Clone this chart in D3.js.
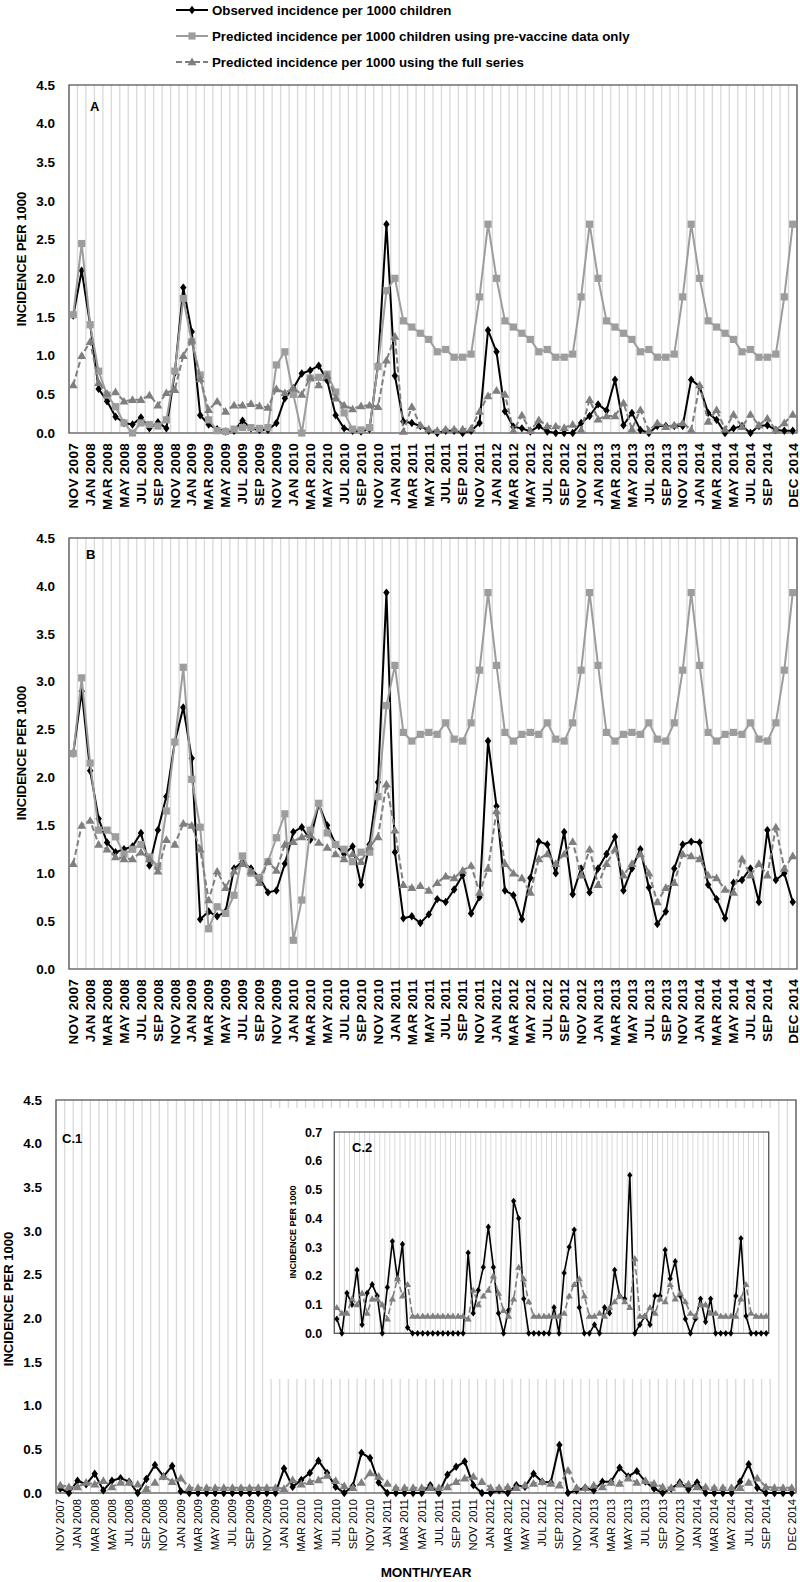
<!DOCTYPE html>
<html><head><meta charset="utf-8">
<script src="https://cdn.jsdelivr.net/npm/d3@7"></script>
<style>body{margin:0;background:#fff}svg{display:block}</style>
</head><body><svg id="c" width="800" height="1582"></svg>
<script>
const months = ["NOV 2007","DEC 2007",
"JAN 2008","FEB 2008","MAR 2008","APR 2008","MAY 2008","JUN 2008","JUL 2008","AUG 2008","SEP 2008","OCT 2008","NOV 2008","DEC 2008",
"JAN 2009","FEB 2009","MAR 2009","APR 2009","MAY 2009","JUN 2009","JUL 2009","AUG 2009","SEP 2009","OCT 2009","NOV 2009","DEC 2009",
"JAN 2010","FEB 2010","MAR 2010","APR 2010","MAY 2010","JUN 2010","JUL 2010","AUG 2010","SEP 2010","OCT 2010","NOV 2010","DEC 2010",
"JAN 2011","FEB 2011","MAR 2011","APR 2011","MAY 2011","JUN 2011","JUL 2011","AUG 2011","SEP 2011","OCT 2011","NOV 2011","DEC 2011",
"JAN 2012","FEB 2012","MAR 2012","APR 2012","MAY 2012","JUN 2012","JUL 2012","AUG 2012","SEP 2012","OCT 2012","NOV 2012","DEC 2012",
"JAN 2013","FEB 2013","MAR 2013","APR 2013","MAY 2013","JUN 2013","JUL 2013","AUG 2013","SEP 2013","OCT 2013","NOV 2013","DEC 2013",
"JAN 2014","FEB 2014","MAR 2014","APR 2014","MAY 2014","JUN 2014","JUL 2014","AUG 2014","SEP 2014","OCT 2014","NOV 2014","DEC 2014"];

const shownLabels = ["NOV 2007","JAN 2008","MAR 2008","MAY 2008","JUL 2008","SEP 2008","NOV 2008",
"JAN 2009","MAR 2009","MAY 2009","JUL 2009","SEP 2009","NOV 2009",
"JAN 2010","MAR 2010","MAY 2010","JUL 2010","SEP 2010","NOV 2010",
"JAN 2011","MAR 2011","MAY 2011","JUL 2011","SEP 2011","NOV 2011",
"JAN 2012","MAR 2012","MAY 2012","JUL 2012","SEP 2012","NOV 2012",
"JAN 2013","MAR 2013","MAY 2013","JUL 2013","SEP 2013","NOV 2013",
"JAN 2014","MAR 2014","MAY 2014","JUL 2014","SEP 2014","DEC 2014"];

const mainTicks = [0,0.5,1,1.5,2,2.5,3,3.5,4,4.5];
const insetTicks = [0,0.1,0.2,0.3,0.4,0.5,0.6,0.7];

const legendLabels = ["Observed incidence per 1000 children",
"Predicted incidence per 1000 children using pre-vaccine data only",
"Predicted incidence per 1000 using the full series"];

// Panel A
const aObs = [1.52,2.10,1.40,0.57,0.41,0.21,0.13,0.11,0.20,0.06,0.14,0.06,0.78,1.88,1.31,0.23,0.11,0.05,0.02,0.03,
0.16,0.06,0.04,0.04,0.13,0.45,0.58,0.77,0.81,0.87,0.68,0.23,0.06,0.03,0.02,0.05,0.88,2.70,0.74,0.15,
0.13,0.09,0.03,0.00,0.03,0.03,0.00,0.03,0.13,1.33,1.05,0.28,0.08,0.06,0.02,0.09,0.02,0.00,0.00,0.00,
0.13,0.22,0.37,0.29,0.69,0.10,0.26,0.04,0.00,0.09,0.09,0.09,0.09,0.69,0.60,0.26,0.17,0.00,0.06,0.09,
0.00,0.09,0.10,0.04,0.03,0.03];
const aPre = [1.53,2.45,1.40,0.80,0.49,0.34,0.13,0.00,0.13,0.11,0.09,0.17,0.80,1.74,1.18,0.75,0.17,0.03,0.02,0.05,
0.07,0.07,0.06,0.07,0.88,1.05,0.50,0.00,0.71,0.72,0.76,0.53,0.26,0.05,0.04,0.07,0.86,1.84,2.00,1.45,
1.37,1.29,1.21,1.05,1.08,0.98,0.98,1.02,1.76,2.70,2.00,1.45,1.37,1.29,1.21,1.05,1.08,0.98,0.98,1.02,
1.76,2.70,2.00,1.45,1.37,1.29,1.21,1.05,1.08,0.98,0.98,1.02,1.76,2.70,2.00,1.45,1.37,1.29,1.21,1.05,
1.08,0.98,0.98,1.02,1.76,2.70];
const aFull = [0.62,1.00,1.18,0.65,0.51,0.53,0.41,0.43,0.43,0.49,0.36,0.52,0.56,1.00,1.20,0.70,0.30,0.41,0.28,0.36,
0.36,0.38,0.35,0.33,0.57,0.52,0.58,0.50,0.72,0.62,0.74,0.45,0.36,0.31,0.35,0.36,0.34,0.94,1.25,0.02,
0.34,0.10,0.05,0.03,0.05,0.05,0.05,0.06,0.28,0.48,0.55,0.50,0.03,0.23,0.03,0.17,0.09,0.09,0.07,0.11,
0.04,0.43,0.18,0.22,0.22,0.39,0.05,0.30,0.03,0.13,0.08,0.10,0.13,0.04,0.62,0.15,0.30,0.05,0.24,0.08,
0.24,0.10,0.19,0.04,0.13,0.24];

// Panel B
const bObs = [2.25,2.90,2.07,1.57,1.32,1.22,1.25,1.28,1.42,1.08,1.45,1.80,2.37,2.73,2.20,0.52,0.60,0.55,0.60,1.05,
1.12,1.05,0.95,0.80,0.82,1.10,1.43,1.48,1.35,1.72,1.50,1.30,1.20,1.28,0.88,1.30,1.95,3.93,1.22,0.53,
0.55,0.48,0.57,0.73,0.70,0.83,0.98,0.58,0.75,2.38,1.70,0.82,0.77,0.52,0.95,1.33,1.30,1.00,1.43,0.78,
1.05,0.80,1.05,1.20,1.38,0.82,1.05,1.25,0.85,0.47,0.60,1.05,1.30,1.33,1.32,0.88,0.73,0.53,0.90,0.93,
1.05,0.70,1.45,0.93,1.00,0.70];
const bPre = [2.25,3.04,2.15,1.45,1.45,1.38,1.20,1.25,1.30,1.17,1.07,1.65,2.37,3.15,1.98,1.48,0.42,0.65,0.58,0.77,
1.18,1.00,0.95,1.12,1.37,1.62,0.30,0.72,1.45,1.73,1.42,1.30,1.25,1.12,1.22,1.22,1.80,2.75,3.17,2.47,
2.38,2.45,2.47,2.45,2.57,2.40,2.38,2.57,3.12,3.93,3.17,2.47,2.38,2.45,2.47,2.45,2.57,2.40,2.38,2.57,
3.12,3.93,3.17,2.47,2.38,2.45,2.47,2.45,2.57,2.40,2.38,2.57,3.12,3.93,3.17,2.47,2.38,2.45,2.47,2.45,
2.57,2.40,2.38,2.57,3.12,3.93];
const bFull = [1.10,1.50,1.55,1.30,1.25,1.17,1.15,1.15,1.22,1.15,1.02,1.35,1.30,1.52,1.50,1.25,0.72,1.02,0.85,1.02,
1.10,1.02,0.90,1.12,1.03,1.30,1.33,1.38,1.40,1.32,1.27,1.20,1.15,1.20,1.12,1.28,1.38,1.93,1.45,0.88,
0.85,0.87,0.82,0.90,0.97,0.95,1.03,1.08,0.80,1.05,1.65,1.10,1.00,0.95,0.80,1.15,1.20,1.10,1.20,1.33,
0.98,1.25,0.88,1.10,1.25,0.98,1.10,1.20,1.00,0.70,0.85,0.90,1.20,1.18,1.15,0.98,0.95,0.83,0.80,1.15,
0.98,1.10,0.98,1.48,1.05,1.18];

// Panel C
const cObs = [0.05,0.00,0.14,0.10,0.22,0.03,0.14,0.17,0.13,0.00,0.16,0.32,0.19,0.31,0.02,0.00,0.00,0.00,0.00,0.00,
0.00,0.00,0.00,0.00,0.00,0.00,0.28,0.07,0.15,0.23,0.37,0.23,0.07,0.00,0.08,0.46,0.40,0.12,0.00,0.00,
0.00,0.00,0.00,0.09,0.00,0.21,0.30,0.36,0.09,0.00,0.00,0.03,0.00,0.09,0.07,0.22,0.13,0.12,0.55,0.00,
0.03,0.06,0.03,0.13,0.13,0.29,0.19,0.25,0.13,0.05,0.00,0.05,0.12,0.04,0.12,0.00,0.00,0.00,0.00,0.13,
0.33,0.06,0.00,0.00,0.00,0.00];
const cFull = [0.09,0.07,0.07,0.12,0.10,0.14,0.07,0.12,0.12,0.10,0.05,0.12,0.19,0.13,0.17,0.06,0.06,0.06,0.06,0.06,
0.06,0.06,0.06,0.06,0.06,0.06,0.05,0.15,0.10,0.13,0.15,0.20,0.14,0.08,0.06,0.12,0.23,0.19,0.11,0.06,
0.06,0.06,0.06,0.06,0.06,0.07,0.13,0.17,0.19,0.13,0.06,0.06,0.07,0.06,0.09,0.11,0.13,0.11,0.09,0.26,
0.06,0.06,0.09,0.07,0.12,0.11,0.17,0.12,0.14,0.11,0.07,0.06,0.10,0.10,0.07,0.07,0.06,0.06,0.06,0.06,
0.12,0.17,0.07,0.06,0.06,0.06];

const FONT = "'Liberation Sans', Arial, sans-serif";
const svg = d3.select('#c');

const styles = {
  obs:  {stroke:'#000000', width:2, dash:null, fill:'#000000', shape:'diamond'},
  pre:  {stroke:'#9d9d9d', width:2, dash:null, fill:'#9d9d9d', shape:'square'},
  full: {stroke:'#7f7f7f', width:2, dash:'6,3', fill:'#7f7f7f', shape:'triangle'}
};
function markerPath(shape, k){
  if(shape==='diamond') return `M0,${-4.2*k}L${3.2*k},0L0,${4.2*k}L${-3.2*k},0Z`;
  if(shape==='square') return `M${-3.6*k},${-3.6*k}h${7.2*k}v${7.2*k}h${-7.2*k}Z`;
  return `M0,${-4.4*k}L${4.5*k},${3.3*k}L${-4.5*k},${3.3*k}Z`;
}

function panel(cfg){
  const g = svg.append('g');
  const x = d3.scaleBand().domain(months).range([cfg.left, cfg.right]).padding(0);
  const xc = m => x(m) + x.bandwidth()/2;
  const y = d3.scaleLinear().domain([0, cfg.ymax]).range([cfg.bottom, cfg.top]);
  const gridX = months.map(m => x(m)).concat([cfg.right]);
  g.append('g').selectAll('line').data(gridX).join('line')
    .attr('x1', d=>d).attr('x2', d=>d).attr('y1', cfg.top).attr('y2', cfg.bottom)
    .attr('stroke', '#d9d9d9').attr('stroke-width', cfg.gridW || 1.3);
  if(cfg.before) cfg.before(g);
  const yAxis = d3.axisLeft(y).tickValues(cfg.ticks).tickSize(0).tickPadding(cfg.tickPad).tickFormat(d3.format('.1f'));
  const ya = g.append('g').attr('transform', `translate(${cfg.left},0)`).call(yAxis);
  ya.select('.domain').remove();
  ya.selectAll('text').attr('font-family', FONT).attr('font-weight','bold')
    .attr('font-size', cfg.tickFont).attr('fill','#000');
  if(cfg.xLabels){
    const xa = d3.axisBottom(x).tickValues(shownLabels).tickSize(0).tickPadding(0);
    const xg = g.append('g').attr('transform', `translate(0,${cfg.bottom})`).call(xa);
    xg.select('.domain').remove();
    xg.selectAll('text').attr('font-family', FONT).attr('font-weight', cfg.xBold ? 'bold':'normal')
      .attr('font-size', cfg.xFont).attr('fill','#000').attr('letter-spacing', cfg.xSpacing || 0)
      .attr('text-anchor','end').attr('dy','0.35em')
      .attr('transform', `translate(0,${cfg.xPad}) rotate(-90)`)
      .attr('x',0).attr('y',0);
  }
  g.append('rect').attr('x', cfg.left).attr('y', cfg.top)
    .attr('width', cfg.right-cfg.left).attr('height', cfg.bottom-cfg.top)
    .attr('fill','none').attr('stroke','#595959').attr('stroke-width', 1.3);
  cfg.series.forEach(s => {
    const st = styles[s.type];
    const line = d3.line().x((d,i)=>xc(months[i])).y(d=>y(d));
    g.append('path').datum(s.data).attr('d', line).attr('fill','none')
      .attr('stroke', st.stroke).attr('stroke-width', st.width * (cfg.mk||1))
      .attr('stroke-dasharray', st.dash).attr('stroke-linejoin','round');
    g.append('g').selectAll('path').data(s.data).join('path')
      .attr('transform', (d,i)=>`translate(${xc(months[i])},${y(d)})`)
      .attr('d', markerPath(st.shape, cfg.mk||1)).attr('fill', st.fill);
  });
  g.append('text').attr('x', cfg.letter[1]).attr('y', cfg.letter[2]).text(cfg.letter[0])
    .attr('font-family', FONT).attr('font-weight','bold').attr('font-size', cfg.letterFont || 13);
  g.append('text').attr('transform', `translate(${cfg.yTitle[0]},${cfg.yTitle[1]}) rotate(-90)`)
    .attr('text-anchor','middle').attr('dy','0.35em').text('INCIDENCE PER 1000')
    .attr('font-family', FONT).attr('font-weight','bold').attr('font-size', cfg.yTitleFont);
  return g;
}

const legendKeys = ['obs','pre','full'];
const lg = svg.append('g');
legendKeys.forEach((k,i) => {
  const st = styles[k];
  const yy = 10 + i*26;
  lg.append('line').attr('x1',176).attr('x2',208).attr('y1',yy).attr('y2',yy)
    .attr('stroke',st.stroke).attr('stroke-width',2).attr('stroke-dasharray',st.dash);
  lg.append('path').attr('transform',`translate(192,${yy})`).attr('d',markerPath(st.shape,1)).attr('fill',st.fill);
  lg.append('text').attr('x',212).attr('y',yy).attr('dy','0.35em').text(legendLabels[i])
    .attr('font-family',FONT).attr('font-weight','bold').attr('font-size',13.3).attr('fill','#000');
});

panel({left:69, right:797, top:85, bottom:433, ymax:4.5, ticks:mainTicks, tickPad:14, tickFont:13.5,
  xLabels:true, xBold:true, xFont:13.5, xSpacing:0.3, xPad:10, letter:['A',90,111], yTitle:[21,259], yTitleFont:13,
  series:[{type:'obs',data:aObs},{type:'pre',data:aPre},{type:'full',data:aFull}]});

panel({left:69, right:797, top:538, bottom:969, ymax:4.5, ticks:mainTicks, tickPad:14, tickFont:13.5,
  xLabels:true, xBold:true, xFont:13.5, xSpacing:0.3, xPad:10, letter:['B',86,559], yTitle:[21,753], yTitleFont:13,
  series:[{type:'obs',data:bObs},{type:'pre',data:bPre},{type:'full',data:bFull}]});

panel({left:56, right:796, top:1100, bottom:1493, ymax:4.5, ticks:mainTicks, tickPad:14, tickFont:13.5,
  xLabels:true, xBold:false, xFont:11.2, xPad:6, letter:['C.1',62,1143], yTitle:[8,1299], yTitleFont:13,
  before: g => g.append('rect').attr('x',268).attr('y',1108).attr('width',510).attr('height',271).attr('fill','#fff'),
  series:[{type:'obs',data:cObs},{type:'full',data:cFull}]});

panel({left:334.3, right:768.7, top:1132, bottom:1333.3, ymax:0.7, ticks:insetTicks, tickPad:12, tickFont:12.5,
  gridW:1, xLabels:false, letter:['C.2',352,1152], yTitle:[293,1232], yTitleFont:9, mk:0.8,
  series:[{type:'obs',data:cObs},{type:'full',data:cFull}]});

svg.append('text').attr('x',426).attr('y',1577).attr('text-anchor','middle').text('MONTH/YEAR')
  .attr('font-family',FONT).attr('font-weight','bold').attr('font-size',13.5);
</script></body></html>
